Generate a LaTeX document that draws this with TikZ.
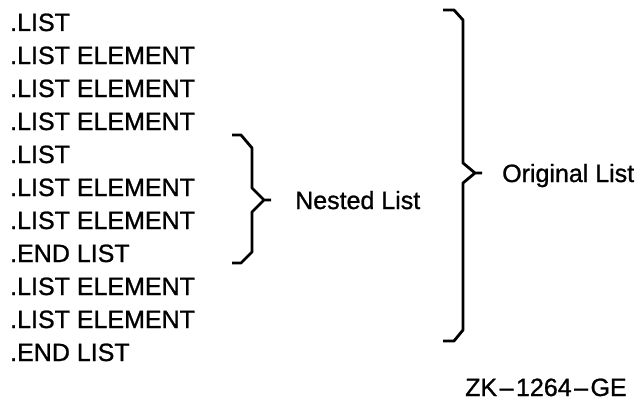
\documentclass[tikz,border=0pt]{standalone}
\usepackage{fontspec}
\setmainfont{Liberation Sans}
\newfontfamily\scanfont{Liberation Sans}[FakeBold=1,Ligatures=TeX]
\tikzset{
  txt/.style={anchor=base west, inner sep=0pt, font=\scanfont\fontsize{25}{30}\selectfont},
  bracestroke/.style={line width=2.8pt, line join=round, line cap=butt}
}
\begin{document}
\begin{tikzpicture}[x=1pt,y=-1pt]
\useasboundingbox (0,0) rectangle (642,404);
\node[txt] (l1)  at (10,31)  {.LIST};
\node[txt] (l2)  at (10,64)  {.LIST ELEMENT};
\node[txt] (l3)  at (10,97)  {.LIST ELEMENT};
\node[txt] (l4)  at (10,130) {.LIST ELEMENT};
\node[txt] (l5)  at (10,163) {.LIST};
\node[txt] (l6)  at (10,196) {.LIST ELEMENT};
\node[txt] (l7)  at (10,229) {.LIST ELEMENT};
\node[txt] (l8)  at (10,262) {.END LIST};
\node[txt] (l9)  at (10,295) {.LIST ELEMENT};
\node[txt] (l10) at (10,328) {.LIST ELEMENT};
\node[txt] (l11) at (10,361) {.END LIST};
% nested brace
\draw[bracestroke] (232,135) -- (241,135) -- (252,148) -- (252,188) -- (264,200) -- (271,200)
  (264,200) -- (252,212) -- (252,252) -- (241,263) -- (232,263);
\node[txt] (nested) at (295,209) {Nested List};
% original brace
\draw[bracestroke] (443,10) -- (454,10) -- (463,20) -- (463,163) -- (475,173) -- (482,173)
  (475,173) -- (463,183) -- (463,330) -- (454,341) -- (443,341);
\node[txt] (orig) at (502,182) {Original List};
\node[txt] (zk) at (465,396) {ZK{\kern2.5pt}–{\kern2.5pt}1264{\kern2.5pt}–{\kern2.5pt}GE};
\end{tikzpicture}
\end{document}
